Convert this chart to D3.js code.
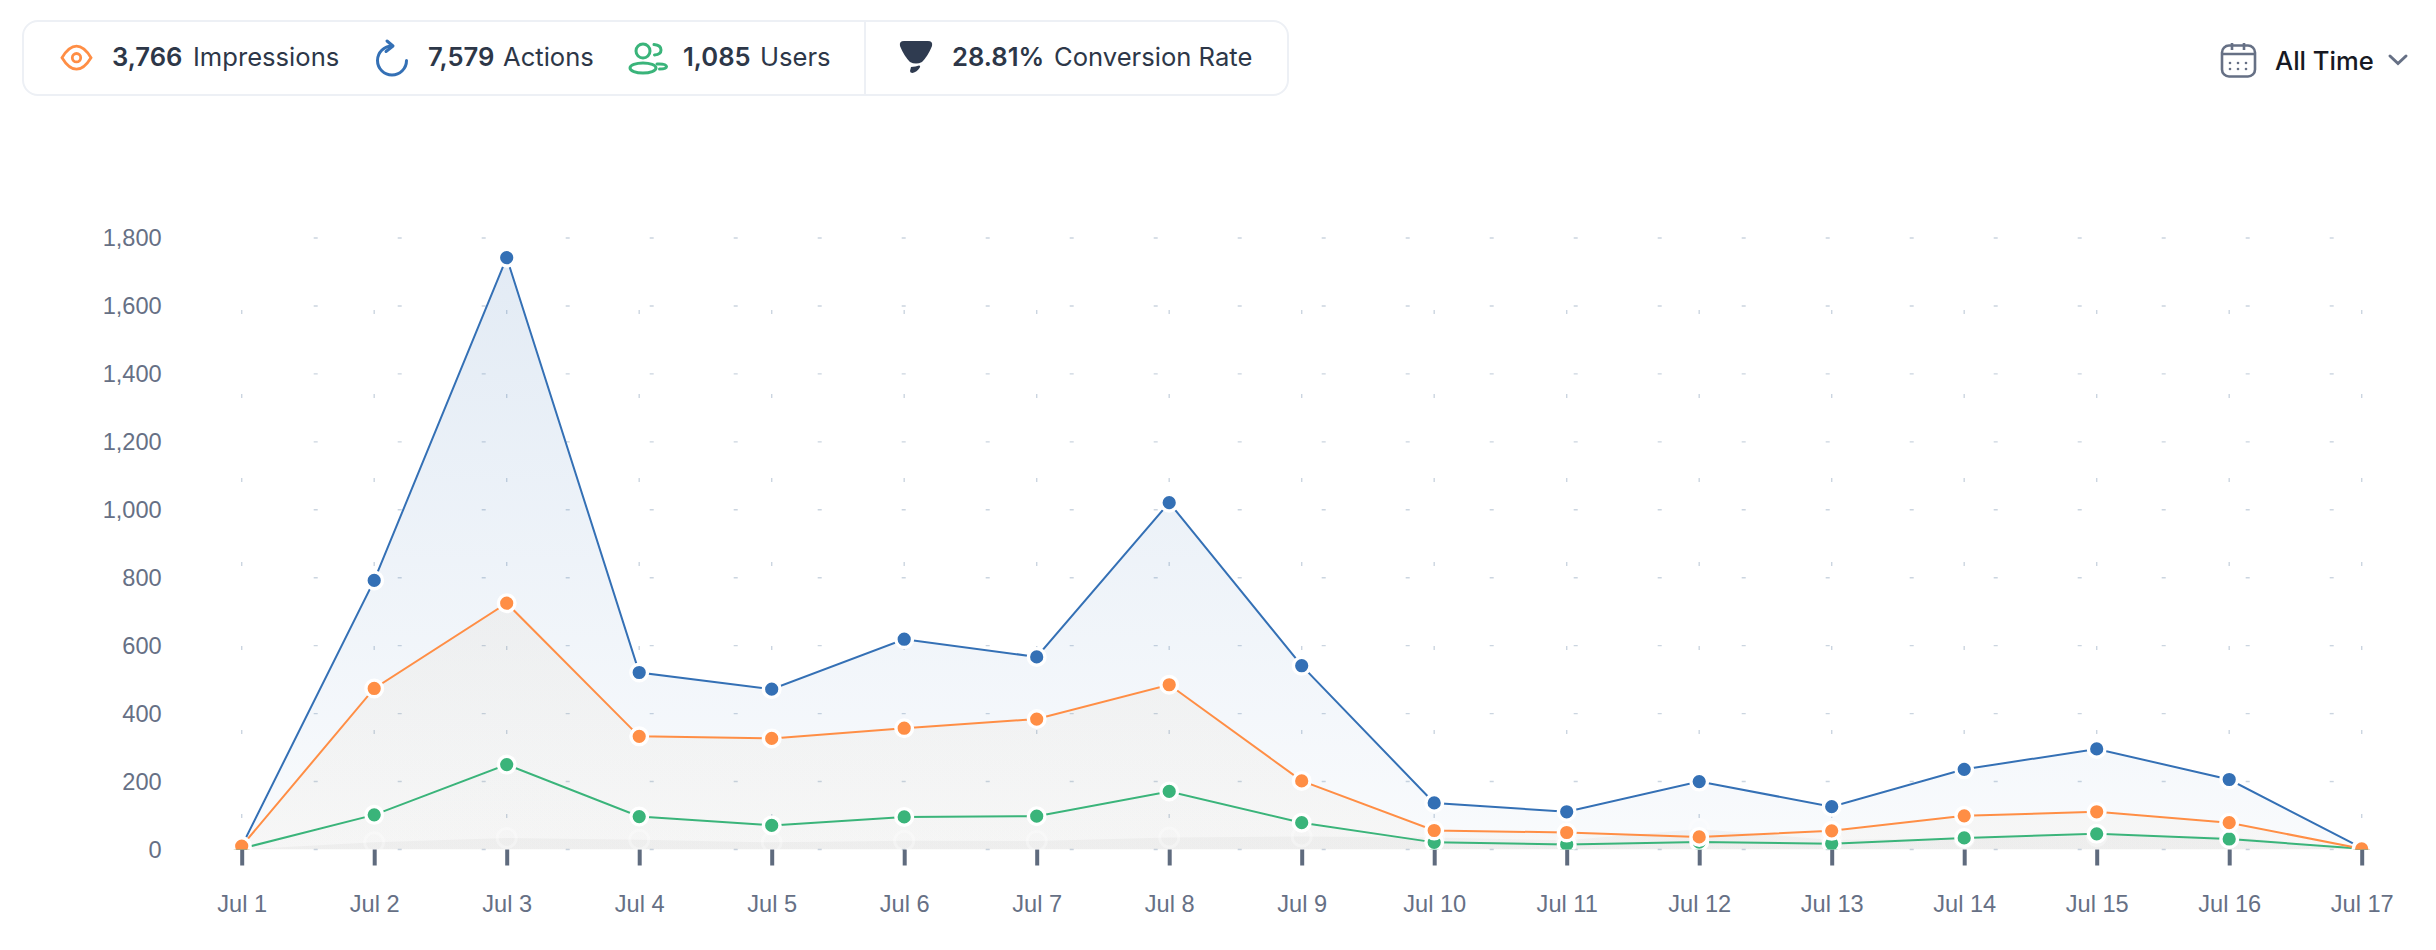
<!DOCTYPE html>
<html>
<head>
<meta charset="utf-8">
<script src="https://cdn.jsdelivr.net/npm/d3@7"></script>
<style>
  html, body { margin: 0; padding: 0; background: #fff; }
  svg { display: block; }
  text { font-family: "Inter", sans-serif; }
  .axis text { font-family: "Liberation Sans", sans-serif; font-size: 23.6px; fill: #667085; }
  .axis .domain { display: none; }
</style>
</head>
<body>
<div id="chart"></div>
<script>
// Chart data
var days = ["Jul 1", "Jul 2", "Jul 3", "Jul 4", "Jul 5", "Jul 6", "Jul 7", "Jul 8", "Jul 9",
  "Jul 10", "Jul 11", "Jul 12", "Jul 13", "Jul 14", "Jul 15", "Jul 16", "Jul 17"];
var actions = [10, 792, 1742, 521, 472, 619, 567, 1021, 541, 137, 111, 200, 126, 236, 296, 206, 5];
var impressions = [10, 474, 725, 333, 327, 357, 384, 485, 202, 56, 50, 37, 55, 99, 111, 79, 2];
var users = [3, 102, 250, 97, 71, 96, 98, 171, 79, 21, 15, 22, 17, 34, 46, 31, 2];
var conversion = [0, 21, 34, 29, 21, 26, 25, 35, 38, 35, 27, 60, 28, 33, 40, 38, 0];
var yTicks = [0, 200, 400, 600, 800, 1000, 1200, 1400, 1600, 1800];

var blue = "#3470b5", orange = "#ff8e45", green = "#3ab47a", grey = "#8a8a8a", sand = "#c9a673";

var svgWidth = 2436;
var svgHeight = 950;

var svg = d3.select("#chart")
  .append("svg")
  .attr("height", svgHeight)
  .attr("width", svgWidth);

var defs = svg.append("defs");

// Plot area
var plotLeft = 241.7, plotRight = 2361.7, plotTop = 238, plotBottom = 849.5;

var xScale = d3.scalePoint().domain(days).range([plotLeft, plotRight]);
var yScale = d3.scaleLinear().domain([0, 1800]).range([plotBottom, plotTop]);

defs.append("clipPath").attr("id", "plot")
  .append("rect")
  .attr("x", plotLeft - 20).attr("y", plotTop - 20)
  .attr("width", plotRight - plotLeft + 40).attr("height", plotBottom - plotTop + 20);

// Dashed grid, one short dash every 84px
var grid = svg.append("g").attr("stroke", "#cbd5e0");

grid.selectAll(".h").data(yTicks).enter().append("line")
  .attr("x1", plotLeft).attr("x2", plotRight)
  .attr("y1", d => yScale(d)).attr("y2", d => yScale(d))
  .attr("stroke-width", 1.4)
  .attr("stroke-dasharray", "4 80").attr("stroke-dashoffset", 12);

grid.selectAll(".v").data(days).enter().append("line")
  .attr("x1", d => xScale(d)).attr("x2", d => xScale(d))
  .attr("y1", plotTop).attr("y2", plotBottom)
  .attr("stroke-width", 1.4)
  .attr("stroke-dasharray", "4 80").attr("stroke-dashoffset", 12);

// Axes
var bottomAxis = d3.axisBottom(xScale).tickSize(16).tickPadding(30);
var leftAxis = d3.axisLeft(yScale).tickValues(yTicks).tickSize(0).tickPadding(80).tickFormat(d3.format(","));

var xAxisG = svg.append("g").attr("class", "axis")
  .attr("transform", `translate(0, ${plotBottom})`)
  .call(bottomAxis);
xAxisG.selectAll("line").attr("stroke", "#5f6b7e").attr("stroke-width", 4);

svg.append("g").attr("class", "axis")
  .attr("transform", `translate(${plotLeft}, 0)`)
  .call(leftAxis);

// Series, back to front
var series = [
  { id: "actions", values: actions, color: blue, fill: blue, top: 0.14, low: 0.03, line: true, halo: 1 },
  { id: "conversion", values: conversion, color: grey, fill: grey, top: 0.07, low: 0.07, line: false, halo: 0.3 },
  { id: "users", values: users, color: green, fill: grey, top: 0.012, low: 0.012, line: true, halo: 1 },
  { id: "impressions", values: impressions, color: orange, fill: sand, top: 0.07, low: 0.045, line: true, halo: 1 }
];

var area = d3.area()
  .x((d, i) => xScale(days[i]))
  .y0(plotBottom)
  .y1(d => yScale(d));

var line = d3.line()
  .x((d, i) => xScale(days[i]))
  .y(d => yScale(d));

var plot = svg.append("g").attr("clip-path", "url(#plot)");

series.forEach(function(s) {
  var grad = defs.append("linearGradient").attr("id", "fill-" + s.id)
    .attr("x1", 0).attr("x2", 0).attr("y1", 0).attr("y2", 1);
  grad.append("stop").attr("offset", 0).attr("stop-color", s.fill).attr("stop-opacity", s.top);
  grad.append("stop").attr("offset", 1).attr("stop-color", s.fill).attr("stop-opacity", s.low);

  plot.append("path")
    .attr("d", area(s.values))
    .attr("fill", `url(#fill-${s.id})`);
});

series.forEach(function(s) {
  if (s.line) {
    plot.append("path")
      .attr("d", line(s.values))
      .attr("fill", "none")
      .attr("stroke", s.color)
      .attr("stroke-width", 2);
  }
  plot.selectAll(".pt-" + s.id).data(s.values).enter().append("circle")
    .attr("cx", (d, i) => xScale(days[i]))
    .attr("cy", d => yScale(d))
    .attr("r", s.line ? 8.3 : 9.5)
    .attr("fill", s.line ? s.color : "none")
    .attr("stroke", "#fff")
    .attr("stroke-opacity", s.halo)
    .attr("stroke-width", s.line ? 3.4 : 3);
});

// Summary panel
var panel = svg.append("g");
panel.append("rect")
  .attr("x", 23).attr("y", 21).attr("width", 1265).attr("height", 74).attr("rx", 15)
  .attr("fill", "#fff").attr("stroke", "#edf0f5").attr("stroke-width", 2);
panel.append("line")
  .attr("x1", 865).attr("x2", 865).attr("y1", 21).attr("y2", 95)
  .attr("stroke", "#edf0f5").attr("stroke-width", 2);

var statValues = ["3,766", "7,579", "1,085", "28.81%"];
var statLabels = ["Impressions", "Actions", "Users", "Conversion Rate"];
var statValueX = [112, 428, 683, 952];
var statLabelX = [193, 503, 760, 1054];

statValues.forEach(function(v, i) {
  panel.append("text").attr("x", statValueX[i]).attr("y", 66)
    .attr("font-size", 25.6).attr("font-weight", 600).attr("fill", "#2d3748").text(v);
  panel.append("text").attr("x", statLabelX[i]).attr("y", 66)
    .attr("font-size", 25.6).attr("font-weight", 400).attr("fill", "#2d3748").text(statLabels[i]);
});

// Panel icons
var eye = panel.append("g").attr("fill", "none").attr("stroke", orange).attr("stroke-width", 2.8);
eye.append("path").attr("d", "M62,57.7 Q69,46.2 76.5,46.2 Q84,46.2 91,57.7 Q84,69.2 76.5,69.2 Q69,69.2 62,57.7 Z");
eye.append("circle").attr("cx", 76.5).attr("cy", 57.7).attr("r", 4.2);

var reload = panel.append("g").attr("fill", "none").attr("stroke", blue).attr("stroke-width", 3)
  .attr("stroke-linecap", "round").attr("stroke-linejoin", "round");
reload.append("path").attr("d", "M392,46 A14.5,14.5 0 1 0 406.5,60.5");
reload.append("path").attr("d", "M387,41 L393,46 L386,51.5");

var people = panel.append("g").attr("fill", "none").attr("stroke", green).attr("stroke-width", 3)
  .attr("stroke-linecap", "round");
people.append("circle").attr("cx", 643).attr("cy", 51).attr("r", 7);
people.append("ellipse").attr("cx", 643).attr("cy", 68).attr("rx", 13).attr("ry", 5);
people.append("path").attr("d", "M654,44.5 Q661,45 661,50 Q661,54.5 654.5,55");
people.append("path").attr("d", "M657,64 Q666,63.5 666.5,66.5 Q666.5,69 659.5,69");

panel.append("path")
  .attr("fill", "#2f3b50")
  .attr("d", "M904,41 H928 Q933,41 932,46 Q928,56 922,62 Q916,65 910,62 Q904,56 900,46 Q899,41 904,41 Z");
panel.append("path")
  .attr("fill", "#2f3b50")
  .attr("d", "M911,67 Q916,66.5 919,65.5 Q921,65.5 919.5,68 Q917,72 912.5,73 Q910,73 910,71 Z");

// Date picker
var picker = svg.append("g");
var cal = picker.append("g").attr("fill", "none").attr("stroke", "#667085").attr("stroke-width", 2.6);
cal.append("rect").attr("x", 2222).attr("y", 45.5).attr("width", 33).attr("height", 31).attr("rx", 7);
cal.append("line").attr("x1", 2222).attr("x2", 2255).attr("y1", 54).attr("y2", 54);
cal.append("line").attr("x1", 2232).attr("x2", 2232).attr("y1", 43).attr("y2", 50);
cal.append("line").attr("x1", 2244).attr("x2", 2244).attr("y1", 43).attr("y2", 50);
[2230, 2238, 2246].forEach(function(x) {
  [63, 69].forEach(function(y) {
    picker.append("circle").attr("cx", x).attr("cy", y).attr("r", 1.3).attr("fill", "#667085");
  });
});
picker.append("text").attr("x", 2275).attr("y", 70)
  .attr("font-size", 25.6).attr("font-weight", 500).attr("fill", "#171923").text("All Time");
picker.append("path").attr("d", "M2390,56 L2398,63.5 L2406,56")
  .attr("fill", "none").attr("stroke", "#667085").attr("stroke-width", 3).attr("stroke-linecap", "round");
</script>
</body>
</html>
